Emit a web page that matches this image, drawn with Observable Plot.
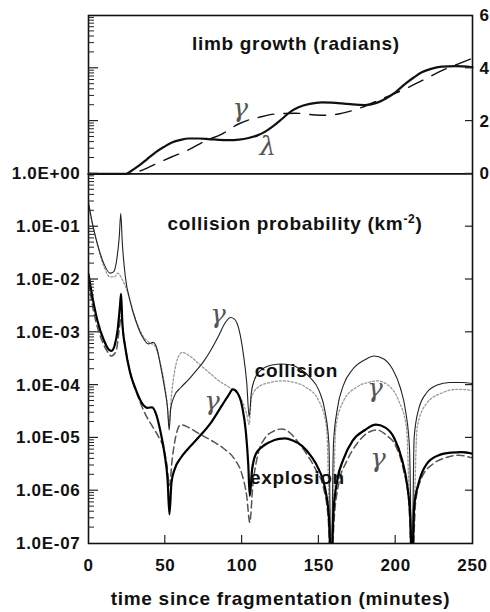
<!DOCTYPE html>
<html><head><meta charset="utf-8">
<script src="https://cdn.jsdelivr.net/npm/d3@7"></script>
<script src="https://cdn.jsdelivr.net/npm/@observablehq/plot@0.6"></script>
<style>
body{margin:0;background:#fff;}
#chart{position:absolute;left:0;top:0;}
</style></head><body><div id="chart"></div>
<script>
// ---- data (time in minutes; probabilities as log10 values; limb growth in radians) ----
const xTicks = [0, 50, 100, 150, 200, 250];
const leftLabelExps = [-7, -6, -5, -4, -3, -2, -1, 0];
const rightLabels = [0, 2, 4, 6];

// limb growth (radians), top panel
const limbSolid = [[0,0],[12,0],[24,0],[28,0.12],[32.6,0.3],[38,0.55],[43.4,0.81],[49,1.02],[54.3,1.19],[60,1.29],[65.1,1.34],[72,1.34],[78.1,1.32],[85,1.29],[91.1,1.28],[98,1.3],[104.2,1.36],[110,1.46],[115,1.6],[120,1.8],[125.9,2.08],[131,2.33],[136.7,2.52],[144,2.65],[151.9,2.71],[158,2.7],[164.9,2.67],[172,2.63],[180.1,2.61],[187,2.68],[193.1,2.84],[200,3.1],[206.2,3.41],[212,3.66],[217,3.85],[223,3.98],[230,4.06],[238.7,4.08],[250,4.04]];
const limbDashed = [[0,0],[26,0],[34,0.12],[43.4,0.37],[54,0.64],[65.1,0.91],[76,1.25],[86.8,1.51],[97.7,1.89],[104,2.04],[110.7,2.14],[121.5,2.27],[134.6,2.3],[147.6,2.23],[155,2.22],[162.8,2.27],[170,2.37],[177.9,2.52],[190.9,2.84],[206.2,3.22],[217,3.53],[230,3.91],[240,4.15],[250,4.38]];

// collision probability, bottom panel (log10 km^-2)
const collisionSolid = [[0,-0.55],[3,-1.0],[6,-1.35],[10,-1.7],[14,-1.88],[16.5,-1.85],[18.5,-1.6],[20,-1.2],[21,-0.75],[22,-1.3],[24,-1.95],[27,-2.4],[31,-2.8],[35,-3.08],[39,-3.22],[42,-3.19],[44.5,-3.3],[47,-3.65],[49.5,-4.05],[51.5,-4.45],[52.5,-4.85],[53.5,-4.45],[56,-4.2],[60,-4.05],[65,-3.9],[70,-3.73],[75,-3.55],[80,-3.32],[85,-3.05],[89,-2.82],[92.5,-2.72],[95,-2.75],[98,-2.95],[101,-3.45],[103,-3.95],[104.6,-4.6],[106,-4.15],[108,-3.9],[112,-3.72],[118,-3.63],[125,-3.6],[132,-3.62],[138,-3.7],[144,-3.85],[150,-4.1],[154,-4.5],[156.5,-5.1],[158,-7.5],[159.5,-5.1],[162,-4.45],[166,-4.0],[172,-3.7],[180,-3.52],[186,-3.45],[192,-3.5],[198,-3.7],[203,-4.05],[206.5,-4.5],[209,-5.2],[210.6,-7.5],[212,-5.0],[215,-4.45],[220,-4.15],[227,-4.0],[235,-3.95],[243,-3.95],[250,-3.97]];
const collisionDotted = [[0,-0.6],[5,-1.25],[10,-1.75],[14,-1.95],[17,-1.95],[19,-1.88],[22,-2.0],[25,-2.2],[30,-2.7],[35,-3.05],[40,-3.2],[43,-3.25],[46,-3.5],[49,-3.9],[51,-4.3],[52.5,-4.7],[54,-4.2],[56,-3.75],[58,-3.5],[61,-3.38],[66,-3.45],[72,-3.6],[78,-3.75],[85,-3.92],[92,-4.05],[97,-4.15],[100,-4.3],[103,-4.55],[104.6,-4.75],[106,-4.25],[110,-4.05],[118,-3.95],[126,-3.92],[134,-3.95],[142,-4.05],[150,-4.3],[155,-4.8],[158,-7.5],[161,-4.8],[166,-4.3],[174,-4.05],[182,-3.95],[188,-3.92],[195,-4.0],[202,-4.3],[207,-4.8],[210.6,-7.5],[214,-4.8],[220,-4.35],[230,-4.15],[240,-4.08],[250,-4.1]];
const explosionSolid = [[0,-1.9],[3,-2.4],[6,-2.8],[10,-3.15],[13,-3.32],[15,-3.35],[17,-3.25],[19,-2.95],[20.5,-2.5],[21.2,-2.27],[22,-2.8],[24,-3.3],[27,-3.75],[31,-4.1],[35,-4.35],[38.5,-4.43],[41.5,-4.42],[44,-4.55],[47,-4.9],[49.5,-5.3],[51.5,-5.8],[52.7,-6.45],[54,-5.85],[56,-5.6],[60,-5.38],[65,-5.2],[72,-4.98],[80,-4.7],[87,-4.38],[91,-4.2],[94,-4.08],[97,-4.15],[100,-4.4],[102.5,-4.9],[104,-5.5],[105,-6.1],[106.5,-5.6],[109,-5.3],[113,-5.17],[118,-5.08],[124,-5.02],[128,-5.01],[133,-5.05],[139,-5.15],[145,-5.35],[150,-5.6],[154,-5.95],[156.5,-6.5],[158,-7.5],[159.5,-6.4],[162,-5.8],[166,-5.4],[172,-5.05],[180,-4.85],[187,-4.75],[193,-4.8],[199,-5.0],[204,-5.4],[207.5,-5.9],[209.5,-6.5],[210.7,-7.5],[212,-6.3],[215,-5.85],[220,-5.5],[228,-5.33],[236,-5.28],[243,-5.27],[250,-5.3]];
const explosionDashed = [[0,-2.05],[4,-2.7],[8,-3.1],[12,-3.35],[15,-3.45],[18,-3.35],[20,-2.95],[21.2,-2.7],[23,-3.1],[27,-3.75],[32,-4.2],[37,-4.55],[42,-4.8],[46,-5.0],[49,-5.2],[51,-5.5],[52.7,-5.9],[54.5,-5.4],[57,-4.95],[60,-4.75],[65,-4.8],[72,-4.92],[80,-5.05],[88,-5.2],[95,-5.4],[100,-5.7],[103,-6.1],[105,-6.6],[107,-5.9],[110,-5.35],[115,-5.0],[120,-4.88],[126,-4.83],[131,-4.9],[137,-5.1],[143,-5.35],[148,-5.6],[153,-5.95],[156,-6.5],[158,-7.5],[160,-6.5],[163,-5.85],[168,-5.45],[175,-5.1],[182,-4.9],[188,-4.85],[194,-4.95],[200,-5.15],[205,-5.6],[208.5,-6.2],[210.7,-7.5],[213,-6.2],[217,-5.75],[224,-5.5],[232,-5.38],[241,-5.33],[250,-5.38]];

// hand-drawn annotation glyphs: [time, log10 position, glyph]
const glyphs = [[99,1.235,"γ"],[117,0.515,"λ"],[84.6,-2.67,"γ"],[80.7,-4.31,"γ"],[186.8,-4.07,"γ"],[188.8,-5.39,"γ"]];

// ---- chart ----
const W = 490, H = 612, mL = 88, mR = 18, mT = 15, mB = 69;
const FONT = "Liberation Sans, Arial, Helvetica, sans-serif";
const pts = arr => arr.map(([t, l]) => ({t, y: Math.pow(10, l)}));
const limbPts = arr => arr.map(([t, v]) => ({t, y: Math.pow(10, v / 2)}));

const minorTicks = [], majorTicks = [];
for (let e = -7; e < 3; e++) {
  if (e > -7) majorTicks.push(Math.pow(10, e));
  for (let m = 2; m <= 9; m++) minorTicks.push(m * Math.pow(10, e));
}
const fmtE = d => { const e = Math.round(Math.log10(d)); return "1.0E" + (e < 0 ? "-" : "+") + String(Math.abs(e)).padStart(2, "0"); };
const TITLE2 = "collision probability (km-2)";

const chart = Plot.plot({
  width: W, height: H,
  marginLeft: mL, marginRight: mR, marginTop: mT, marginBottom: mB,
  style: {fontFamily: FONT, fontWeight: "bold", fontSize: "17px", letterSpacing: "0.7px", color: "#111", background: "#fff"},
  x: {domain: [0, 250]},
  y: {type: "log", domain: [1e-7, 1e3]},
  marks: [
    Plot.ruleY([1], {stroke: "#111", strokeWidth: 1.6}),
    // axes labels
    Plot.axisY({anchor: "left", ticks: leftLabelExps.map(e => Math.pow(10, e)), tickFormat: fmtE, tickSize: 0, tickPadding: 8, label: null, fontSize: 17}),
    Plot.axisY({anchor: "right", ticks: rightLabels.map(v => Math.pow(10, v / 2)), tickFormat: d => String(Math.round(2 * Math.log10(d))), tickSize: 0, tickPadding: 7, label: null, fontSize: 17}),
    Plot.axisX({ticks: xTicks, tickSize: 0, tickPadding: 15, label: null, fontSize: 17}),
    // limb growth
    Plot.line(limbPts(limbDashed), {x: "t", y: "y", curve: "monotone-x", stroke: "#111", strokeWidth: 1.4, strokeDasharray: "16,10"}),
    Plot.line(limbPts(limbSolid), {x: "t", y: "y", curve: "monotone-x", stroke: "#111", strokeWidth: 2.2}),
    // probabilities
    Plot.line(pts(collisionDotted), {x: "t", y: "y", curve: "monotone-x", stroke: "#999", strokeWidth: 1.3, strokeDasharray: "2,2", clip: true}),
    Plot.line(pts(explosionDashed), {x: "t", y: "y", curve: "monotone-x", stroke: "#555", strokeWidth: 1.5, strokeDasharray: "7,4", clip: true}),
    Plot.line(pts(collisionSolid), {x: "t", y: "y", curve: "monotone-x", stroke: "#222", strokeWidth: 1.1, clip: true}),
    Plot.line(pts(explosionSolid), {x: "t", y: "y", curve: "monotone-x", stroke: "#000", strokeWidth: 2.2, clip: true}),
    // glyph annotations
    Plot.text(glyphs, {x: d => d[0], y: d => Math.pow(10, d[1]), text: d => d[2], fontFamily: "DejaVu Serif", fontStyle: "italic", fontWeight: "normal", fontSize: 26, fill: "#555"}),
    // titles & labels
    Plot.text(["limb growth (radians)"], {x: 135, y: Math.pow(10, 2.46), fontSize: 19}),
    Plot.text([TITLE2], {x: 134.4, y: Math.pow(10, -0.95), fontSize: 19}),
    Plot.text(["collision"], {x: 135.4, y: Math.pow(10, -3.73), fontSize: 19}),
    Plot.text(["explosion"], {x: 136, y: Math.pow(10, -5.75), fontSize: 19}),
    Plot.text(["time since fragmentation (minutes)"], {frameAnchor: "bottom", dy: 61, fontSize: 19}),
    Plot.frame({stroke: "#111", strokeWidth: 1.6})
  ]
});
document.getElementById("chart").appendChild(chart);

// inward tick marks, positioned through Plot's own scales
const sx = chart.scale("x"), sy = chart.scale("y");
const x0 = sx.apply(0), x1 = sx.apply(250), yb = sy.apply(1e-7);
const gTicks = d3.select(chart).append("g").attr("stroke", "#222").attr("fill", "none");
minorTicks.forEach(v => gTicks.append("line").attr("x1", x0).attr("x2", x0 + 6).attr("y1", sy.apply(v)).attr("y2", sy.apply(v)).attr("stroke-width", 1));
majorTicks.forEach(v => {
  gTicks.append("line").attr("x1", x0).attr("x2", x0 + 10).attr("y1", sy.apply(v)).attr("y2", sy.apply(v)).attr("stroke-width", 1.2);
  gTicks.append("line").attr("x1", x1 - 7).attr("x2", x1).attr("y1", sy.apply(v)).attr("y2", sy.apply(v)).attr("stroke-width", 1.2);
});
xTicks.slice(1, -1).forEach(t => gTicks.append("line").attr("x1", sx.apply(t)).attr("x2", sx.apply(t)).attr("y1", yb).attr("y2", yb - 8).attr("stroke-width", 1.2));

// superscript in the panel title
d3.select(chart).selectAll("text").filter(function () { return this.textContent === TITLE2; }).each(function () {
  const t = d3.select(this);
  t.text(null);
  t.append("tspan").text("collision probability (km");
  t.append("tspan").attr("font-size", 12).attr("dy", -7).text("-2");
  t.append("tspan").attr("dy", 7).text(")");
});
</script>
</body></html>
